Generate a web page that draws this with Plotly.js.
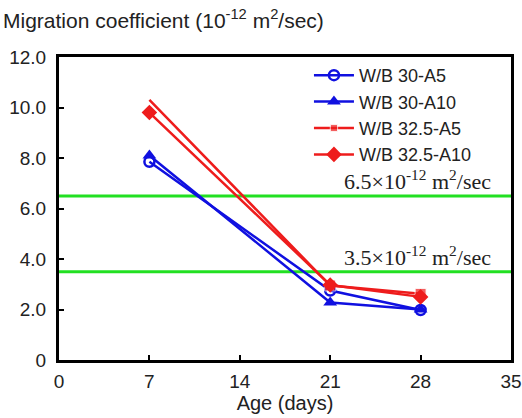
<!DOCTYPE html>
<html><head><meta charset="utf-8">
<script src="https://cdn.plot.ly/plotly-3.0.1.min.js"></script>
<style>body{margin:0;padding:0;background:#fff}#chart{width:522px;height:418px}</style>
</head><body><div id="chart"></div>
<script>
const ages = [7, 21, 28];
const seriesNames = ["W/B 30-A5", "W/B 30-A10", "W/B 32.5-A5", "W/B 32.5-A10"];
const wb30A5 = [7.85, 2.75, 1.98];
const wb30A10 = [8.1, 2.28, 2.0];
const wb325A5 = [10.3, 2.95, 2.62];
const wb325A10 = [9.8, 2.97, 2.5];
const limits = [6.5, 3.5];
const limitLabels = ["6.5×10<sup>-12</sup> m<sup>2</sup>/sec", "3.5×10<sup>-12</sup> m<sup>2</sup>/sec"];
const xTicks = [0, 7, 14, 21, 28, 35];
const yTicks = [0, 2, 4, 6, 8, 10, 12];
const yTickText = ["0", "2.0", "4.0", "6.0", "8.0", "10.0", "12.0"];

const BLUE = "#1010e0", RED = "#ee1c1c", GREEN = "#22e022";
const SANS = "Liberation Sans, Arial, sans-serif";
const SERIF = "Liberation Serif, Times New Roman, serif";
const traces = [
  {x: [0, 35], y: [limits[0], limits[0]], mode: "lines", line: {color: GREEN, width: 3}, showlegend: false, hoverinfo: "skip"},
  {x: [0, 35], y: [limits[1], limits[1]], mode: "lines", line: {color: GREEN, width: 3}, showlegend: false, hoverinfo: "skip"},
  {x: ages, y: wb30A5, name: seriesNames[0], mode: "lines+markers", line: {color: BLUE, width: 2.5},
   marker: {symbol: "circle-open", size: 10, color: BLUE, line: {width: 2.5, color: BLUE}}},
  {x: ages, y: wb30A10, name: seriesNames[1], mode: "lines+markers", line: {color: BLUE, width: 2.5},
   marker: {symbol: "triangle-up", size: 12, color: BLUE}},
  {x: ages, y: wb325A5, name: seriesNames[2], mode: "lines+markers", line: {color: RED, width: 2.5},
   marker: {symbol: "square", size: [0, 11, 11], color: RED}},
  {x: ages, y: wb325A10, name: seriesNames[3], mode: "lines+markers", line: {color: RED, width: 2.5},
   marker: {symbol: "diamond", size: 12, color: RED}}
];

const axisCommon = {showline: true, linecolor: "#000", linewidth: 3, mirror: true, ticks: "inside",
  tickcolor: "#000", tickwidth: 2, ticklen: 5, showgrid: false, zeroline: false,
  tickfont: {family: SANS, size: 19, color: "#222"}};

const layout = {
  width: 522, height: 418,
  margin: {l: 59, r: 11, t: 57, b: 58},
  paper_bgcolor: "#fff", plot_bgcolor: "#fff",
  showlegend: true,
  legend: {x: 0.553, y: 1.0, xanchor: "left", yanchor: "top", bgcolor: "rgba(0,0,0,0)",
    font: {family: SANS, size: 18, color: "#222"},
    tracegroupgap: 0, itemwidth: 40},
  xaxis: Object.assign({}, axisCommon, {range: [0, 35], tickvals: xTicks, ticktext: xTicks.map(String),
    ticklabelstandoff: 2,
    title: {text: "Age (days)", font: {family: SANS, size: 20, color: "#222"}, standoff: 4}}),
  yaxis: Object.assign({}, axisCommon, {range: [0, 12], tickvals: yTicks, ticktext: yTickText,
    ticklabelstandoff: 6}),
  annotations: [
    {text: "Migration coefficient (10<sup>-12</sup> m<sup>2</sup>/sec)", xref: "paper", yref: "paper",
     x: -0.128, y: 1.075, xanchor: "left", yanchor: "bottom", showarrow: false,
     font: {family: SANS, size: 21, color: "#222"}},
    {text: limitLabels[0], xref: "x", yref: "y", x: 33.6, y: limits[0], xanchor: "right", yanchor: "bottom",
     showarrow: false, font: {family: SERIF, size: 22, color: "#222"}},
    {text: limitLabels[1], xref: "x", yref: "y", x: 33.6, y: limits[1], xanchor: "right", yanchor: "bottom",
     showarrow: false, font: {family: SERIF, size: 22, color: "#222"}}
  ]
};
Plotly.newPlot("chart", traces, layout, {displayModeBar: false, staticPlot: true});
</script></body></html>
